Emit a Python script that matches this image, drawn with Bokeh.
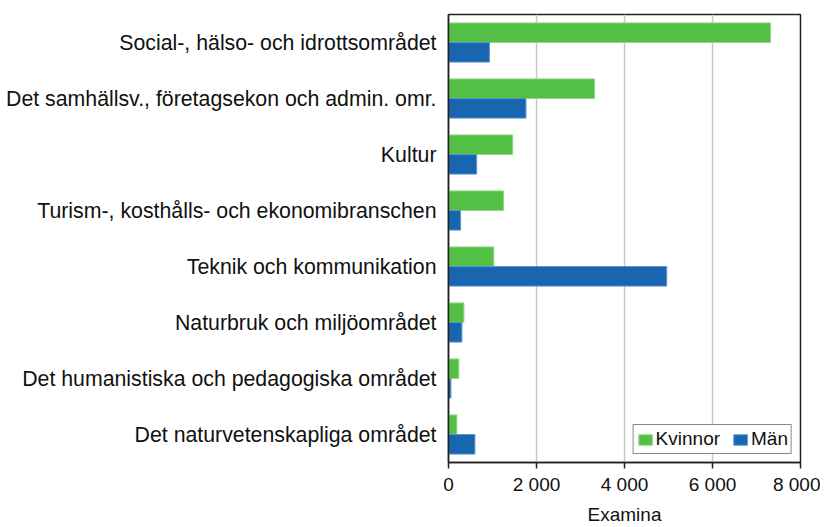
from bokeh.plotting import figure
from bokeh.models import FactorRange, Range1d, FixedTicker, Legend, LegendItem, ColumnDataSource
from bokeh.transform import dodge
from bokeh.embed import file_html
from bokeh.resources import INLINE

categories = [
    "Social-, hälso- och idrottsområdet",
    "Det samhällsv., företagsekon och admin. omr.",
    "Kultur",
    "Turism-, kosthålls- och ekonomibranschen",
    "Teknik och kommunikation",
    "Naturbruk och miljöområdet",
    "Det humanistiska och pedagogiska området",
    "Det naturvetenskapliga området",
]
kvinnor = [7320, 3320, 1460, 1250, 1030, 350, 235, 190]
man = [930, 1760, 640, 275, 4960, 305, 55, 600]
x_ticks = [0, 2000, 4000, 6000, 8000]
x_tick_labels = ["0", "2 000", "4 000", "6 000", "8 000"]
x_title = "Examina"
series_names = ["Kvinnor", "Män"]

FONT = "Liberation Sans"
GREEN = "#54bf45"
BLUE = "#1866b0"

src = ColumnDataSource(dict(cat=categories, k=kvinnor, m=man))

p = figure(
    width=820, height=527,
    y_range=FactorRange(*reversed(categories)),
    x_range=Range1d(0, 8000),
    output_backend="svg", toolbar_location=None,
    min_border_left=448, min_border_right=20, min_border_top=14, min_border_bottom=64,
)
p.y_range.range_padding = 0

r1 = p.hbar(y=dodge("cat", 0.175, range=p.y_range), right="k", left=0, height=0.35,
            source=src, fill_color=GREEN, line_color="#8fdc85", line_width=1)
r2 = p.hbar(y=dodge("cat", -0.175, range=p.y_range), right="m", left=0, height=0.35,
            source=src, fill_color=BLUE, line_color="#5d95cc", line_width=1)

p.xaxis.ticker = FixedTicker(ticks=x_ticks)
p.xaxis.major_label_overrides = {t: l for t, l in zip(x_ticks, x_tick_labels)}
p.xaxis.axis_label = x_title
p.xaxis.axis_label_text_font = FONT
p.xaxis.axis_label_text_font_size = "19px"
p.xaxis.axis_label_text_font_style = "normal"
p.xaxis.axis_label_text_color = "#111111"
p.xaxis.axis_label_standoff = 6
p.xaxis.major_label_text_font = FONT
p.xaxis.major_label_text_font_size = "19px"
p.xaxis.major_label_text_color = "#111111"
p.xaxis.axis_line_color = "#222222"
p.xaxis.axis_line_width = 1.5
p.xaxis.major_tick_line_color = "#222222"
p.xaxis.major_tick_line_width = 1.5
p.xaxis.major_tick_out = 6
p.xaxis.major_tick_in = 0
p.xaxis.minor_tick_line_color = None
p.xaxis.major_label_standoff = 5

p.yaxis.major_label_text_font = FONT
p.yaxis.major_label_text_font_size = "21.3px"
p.yaxis.major_label_text_color = "#111111"
p.yaxis.axis_line_color = "#222222"
p.yaxis.axis_line_width = 1.5
p.yaxis.major_tick_line_color = None
p.yaxis.minor_tick_line_color = None
p.yaxis.major_label_standoff = 6

p.xgrid.grid_line_color = "#c8c8c8"
p.xgrid.grid_line_width = 1.5
p.ygrid.grid_line_color = None
p.outline_line_color = "#222222"
p.outline_line_width = 1.5

legend = Legend(
    items=[LegendItem(label=series_names[0], renderers=[r1]),
           LegendItem(label=series_names[1], renderers=[r2])],
    location="bottom_right", orientation="horizontal",
    label_text_font=FONT, label_text_font_size="19px", label_text_color="#111111",
    border_line_color="#111111", border_line_width=1.5,
    glyph_width=17, glyph_height=13, label_standoff=2, spacing=12,
    padding=3, margin=8, label_height=18,
)
p.add_layout(legend)

open("out.html", "w").write(file_html(p, INLINE))
